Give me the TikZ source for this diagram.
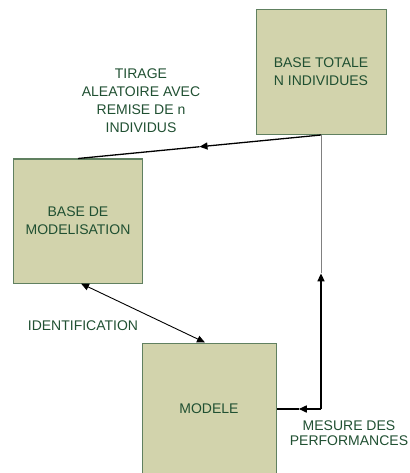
\documentclass[tikz,border=0pt]{standalone}
\usepackage{fontspec}
\setmainfont{Liberation Sans}
\usetikzlibrary{arrows.meta,calc}
\definecolor{boxfill}{RGB}{210,211,172}
\definecolor{boxline}{RGB}{96,128,96}
\definecolor{txt}{RGB}{32,80,50}
\begin{document}
\begin{tikzpicture}[x=1pt,y=-1pt,
  box/.style={draw=boxline, line width=1pt, fill=boxfill, inner sep=0pt, text=txt, align=center, font=\fontsize{14}{18}\selectfont},
  lbl/.style={text=txt, align=center, inner sep=0pt, font=\fontsize{14}{18}\selectfont},
  tip/.style={-{Triangle[length=8pt,width=7pt]}},
  dtip/.style={{Triangle[length=8pt,width=7pt]}-{Triangle[length=8pt,width=7pt]}}]
\useasboundingbox (0,0) rectangle (409,473);
\node[box, minimum width=130pt, minimum height=125pt] (total) at (321,72) {BASE TOTALE\\N INDIVIDUES};
\node[box, minimum width=129pt, minimum height=124pt] (modl) at (78,221) {BASE DE\\MODELISATION};
\node[box, minimum width=134pt, minimum height=132pt] (modele) at (209,409) {MODELE};
% labels
\node[lbl] (tirage) at (141,101) {TIRAGE\\ALEATOIRE AVEC\\REMISE DE n\\INDIVIDUS};
\node[lbl] (ident) at (83,326) {IDENTIFICATION};
\node[lbl, font=\fontsize{14}{15}\selectfont] (mesure) at (349,433) {MESURE DES\\PERFORMANCES};
% sampling connector
\coordinate (mid1) at ($(total.south)!0.5!(modl.north)$);
\draw[tip, line width=1.3pt] (total.south) -- (mid1);
\draw[line width=1.3pt] (mid1) -- (modl.north);
% identification
\draw[dtip, line width=0.9pt] ([xshift=3pt]modl.south) -- ([xshift=-4pt]modele.north);
% performance loop
\coordinate (corner) at (total.south |- modele.east);
\coordinate (uptip) at ($(total.south)!0.505!(corner)$);
\coordinate (lefttip) at ($(corner)!0.5!(modele.east)$);
\draw[gray, line width=0.8pt] (total.south) -- (uptip);
\draw[tip, line width=1.5pt] (corner) -- (uptip);
\draw[tip, line width=1.5pt] (corner) -- (lefttip);
\draw[line width=1.5pt] (lefttip) -- (modele.east);
\end{tikzpicture}
\end{document}
